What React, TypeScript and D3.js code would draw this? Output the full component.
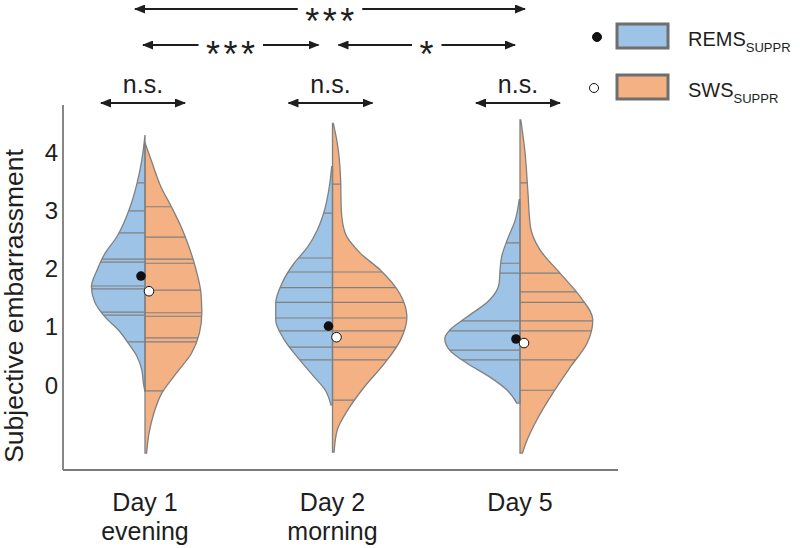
import React from "react";
import * as d3 from "d3";

// ---------- data ----------
const days = ["Day 1", "Day 2", "Day 5"];
const dayTimes = ["evening", "morning", ""];
const yTicks = [0, 1, 2, 3, 4];

const remsMeans = [1.87, 1.01, 0.79];
const swsMeans = [1.61, 0.82, 0.72];

// individual observations (horizontal lines inside violins)
const remsPointsDay1 = [3.47, 2.99, 2.61, 2.16, 2.11, 1.7, 1.65, 1.25, 1.2, 0.74];
const swsPointsDay1 = [3.06, 2.54, 2.16, 2.09, 1.63, 1.24, 1.18, 0.81, 0.74, -0.1];
const remsPointsDay2 = [2.95, 2.18, 1.94, 1.67, 1.42, 1.15, 0.93, 0.65, 0.43];
const swsPointsDay2 = [3.45, 1.94, 1.67, 1.42, 1.15, 0.93, 0.65, 0.43, -0.26];
const remsPointsDay5 = [2.44, 2.09, 1.92, 1.1, 0.93, 0.6, 0.43];
const swsPointsDay5 = [3.47, 1.92, 1.6, 1.42, 1.1, 0.93, 0.43, -0.09];

// density profiles [value, density]
const remsDensityDay1 = [
  [4.29, 0], [3.86, 0.04], [3.46, 0.1], [3.12, 0.17], [2.83, 0.25], [2.55, 0.35],
  [2.26, 0.5], [1.97, 0.6], [1.69, 0.67], [1.43, 0.63], [1.17, 0.5], [0.94, 0.33],
  [0.72, 0.21], [0.49, 0.1], [0.26, 0.04], [0.03, 0.02], [-0.12, 0],
];
const swsDensityDay1 = [
  [4.16, 0], [3.81, 0.09], [3.4, 0.2], [3.06, 0.33], [2.72, 0.45], [2.37, 0.55],
  [1.97, 0.64], [1.57, 0.7], [1.23, 0.71], [0.89, 0.68], [0.54, 0.58], [0.2, 0.39],
  [-0.14, 0.21], [-0.49, 0.11], [-0.83, 0.05], [-1.17, 0.02],
];
const remsDensityDay2 = [
  [3.75, 0.01], [3.4, 0.04], [3.0, 0.1], [2.66, 0.19], [2.37, 0.31], [2.09, 0.48],
  [1.75, 0.63], [1.4, 0.71], [1.12, 0.71], [0.77, 0.6], [0.43, 0.41], [0.14, 0.23],
  [-0.09, 0.09], [-0.34, 0.02],
];
const swsDensityDay2 = [
  [4.49, 0.01], [4.15, 0.06], [3.58, 0.1], [3.0, 0.11], [2.6, 0.16], [2.26, 0.35],
  [1.97, 0.6], [1.57, 0.84], [1.17, 0.93], [0.77, 0.85], [0.37, 0.65], [-0.03, 0.4],
  [-0.43, 0.19], [-0.77, 0.06], [-1.15, 0.02],
];
const remsDensityDay5 = [
  [3.18, 0.01], [2.83, 0.06], [2.49, 0.16], [2.2, 0.23], [1.97, 0.25], [1.75, 0.26],
  [1.46, 0.38], [1.17, 0.66], [0.94, 0.88], [0.8, 0.94], [0.6, 0.88], [0.37, 0.66],
  [0.14, 0.38], [-0.09, 0.16], [-0.31, 0.04],
];
const swsDensityDay5 = [
  [4.55, 0.01], [4.03, 0.06], [3.29, 0.1], [2.72, 0.13], [2.32, 0.25], [1.92, 0.5],
  [1.52, 0.75], [1.12, 0.91], [0.72, 0.84], [0.31, 0.63], [-0.14, 0.41], [-0.6, 0.21],
  [-0.94, 0.09], [-1.17, 0.03],
];

const remsDensities = [remsDensityDay1, remsDensityDay2, remsDensityDay5];
const swsDensities = [swsDensityDay1, swsDensityDay2, swsDensityDay5];
const remsPoints = [remsPointsDay1, remsPointsDay2, remsPointsDay5];
const swsPoints = [swsPointsDay1, swsPointsDay2, swsPointsDay5];

// comparisons
const comparisonFrom = [0, 1, 2, 0, 1, 0];
const comparisonTo = [0, 1, 2, 1, 2, 2];
const comparisonLabel = ["n.s.", "n.s.", "n.s.", "***", "*", "***"];
const comparisonLevel = [0, 0, 0, 1, 1, 2];

const legendLabels = ["REMS", "SWS"];
const legendSub = "SUPPR";
const yTitle = "Subjective embarrassment";

// ---------- styles ----------
const BLUE = "#9dc3e6";
const ORANGE = "#f4b183";
const EDGE = "#808080";
const FONT = "'Liberation Sans', Arial, Helvetica, sans-serif";
const INK = "#1e1e1e";

export default function App() {
  const W = 800;
  const H = 548;
  const x = d3.scalePoint<string>().domain(days).range([145, 520]);
  const y = d3.scaleLinear().domain([0, 4]).range([385, 152]);
  const w = d3.scaleLinear().domain([0, 1]).range([0, 80]);

  const axisLeft = 63;
  const axisBottom = 470;
  const axisTop = 105;
  const axisRight = 618;

  const halfPath = (dens: number[][], cx: number, side: number) => {
    const line = d3
      .line<number[]>()
      .x((d) => cx + side * w(d[1]))
      .y((d) => y(d[0]))
      .curve(d3.curveMonotoneY);
    const first = dens[0];
    const last = dens[dens.length - 1];
    return (
      `M${cx},${y(first[0])}` +
      line(dens)!.replace(/^M/, "L") +
      `L${cx},${y(last[0])}Z`
    );
  };

  const levelY = [103, 45, 9];
  const arrowSpan = (i: number) => {
    const a = x(days[comparisonFrom[i]])!;
    const b = x(days[comparisonTo[i]])!;
    const lvl = comparisonLevel[i];
    if (lvl === 0) return [a - 44, a + 40];
    if (lvl === 1) return comparisonFrom[i] === 0 ? [a - 2, b - 14] : [a + 6, b - 5];
    return [a - 10, b + 5];
  };

  return (
    <svg
      width={W}
      height={H}
      style={{ position: "absolute", left: 0, top: 0, background: "#fff" }}
      fontFamily={FONT}
    >
      <defs>
        <marker id="ah" viewBox="0 0 11 9" refX="10" refY="4.5" markerWidth="11" markerHeight="9" markerUnits="userSpaceOnUse" orient="auto-start-reverse">
          <path d="M0,0 L11,4.5 L0,9 Z" fill={INK} />
        </marker>
        {days.map((d, i) => (
          <React.Fragment key={d}>
            <clipPath id={`cr${i}`}>
              <path d={halfPath(remsDensities[i], x(d)!, -1)} />
            </clipPath>
            <clipPath id={`cs${i}`}>
              <path d={halfPath(swsDensities[i], x(d)!, 1)} />
            </clipPath>
          </React.Fragment>
        ))}
      </defs>

      {/* axes */}
      <line x1={axisLeft} x2={axisLeft} y1={axisTop} y2={axisBottom} stroke="#7a7a7a" strokeWidth={1.8} />
      <line x1={axisLeft} x2={axisRight} y1={axisBottom} y2={axisBottom} stroke="#7a7a7a" strokeWidth={1.8} />
      {yTicks.map((t) => (
        <text key={t} x={58} y={y(t) + 8.5} textAnchor="end" fontSize={24} fill={INK}>
          {t}
        </text>
      ))}
      <text
        transform={`translate(23,${306}) rotate(-90)`}
        textAnchor="middle"
        fontSize={26.5}
        fill={INK}
      >
        {yTitle}
      </text>
      {days.map((d, i) => (
        <g key={d}>
          <text x={x(d)!} y={511} textAnchor="middle" fontSize={25} fill={INK}>
            {d}
          </text>
          {dayTimes[i] && (
            <text x={x(d)!} y={540} textAnchor="middle" fontSize={25} fill={INK}>
              {dayTimes[i]}
            </text>
          )}
        </g>
      ))}

      {/* violins */}
      {days.map((d, i) => {
        const cx = x(d)!;
        const rp = halfPath(remsDensities[i], cx, -1);
        const sp = halfPath(swsDensities[i], cx, 1);
        return (
          <g key={d}>
            <path d={rp} fill={BLUE} />
            <path d={sp} fill={ORANGE} />
            <g clipPath={`url(#cr${i})`}>
              {remsPoints[i].map((v, k) => (
                <line key={k} x1={cx - 120} x2={cx} y1={y(v)} y2={y(v)} stroke={EDGE} strokeWidth={1.2} />
              ))}
            </g>
            <g clipPath={`url(#cs${i})`}>
              {swsPoints[i].map((v, k) => (
                <line key={k} x1={cx} x2={cx + 120} y1={y(v)} y2={y(v)} stroke={EDGE} strokeWidth={1.2} />
              ))}
            </g>
            <path d={rp} fill="none" stroke={EDGE} strokeWidth={1.3} />
            <path d={sp} fill="none" stroke={EDGE} strokeWidth={1.3} />
            <circle cx={cx - 4} cy={y(remsMeans[i])} r={4.8} fill="#111" />
            <circle cx={cx + 4} cy={y(swsMeans[i])} r={4.8} fill="#fff" stroke="#111" strokeWidth={1} />
          </g>
        );
      })}

      {/* significance annotations */}
      {comparisonLabel.map((lab, i) => {
        const [x1, x2] = arrowSpan(i);
        const ly = levelY[comparisonLevel[i]];
        if (comparisonLevel[i] === 0) {
          return (
            <g key={i}>
              <line x1={x1} x2={x2} y1={ly} y2={ly} stroke={INK} strokeWidth={1.8} markerStart="url(#ah)" markerEnd="url(#ah)" />
              <text x={(x1 + x2) / 2} y={93} textAnchor="middle" fontSize={25} fill={INK}>
                {lab}
              </text>
            </g>
          );
        }
        const cx = (x1 + x2) / 2;
        const half = (lab.length * 17.5) / 2 + 6;
        return (
          <g key={i}>
            <line x1={x1} x2={cx - half} y1={ly} y2={ly} stroke={INK} strokeWidth={1.8} markerStart="url(#ah)" />
            <line x1={cx + half} x2={x2} y1={ly} y2={ly} stroke={INK} strokeWidth={1.8} markerEnd="url(#ah)" />
            <text x={cx + 1.5} y={Math.max(ly + 22, 33.5)} textAnchor="middle" fontSize={36} letterSpacing={3.5} fill={INK}>
              {lab}
            </text>
          </g>
        );
      })}

      {/* legend */}
      {legendLabels.map((lab, i) => {
        const ty = 24 + i * 51;
        return (
          <g key={lab}>
            <circle cx={597 - i * 3} cy={ty + 13} r={4.5} fill={i === 0 ? "#111" : "#fff"} stroke="#111" strokeWidth={1} />
            <rect x={617} y={ty} width={51} height={24} fill={i === 0 ? BLUE : ORANGE} stroke="#6e6e6e" strokeWidth={3} />
            <text x={688} y={ty + 22} fontSize={20} fill={INK}>
              {lab}
              <tspan fontSize={13} dy={6}>
                {legendSub}
              </tspan>
            </text>
          </g>
        );
      })}
    </svg>
  );
}
